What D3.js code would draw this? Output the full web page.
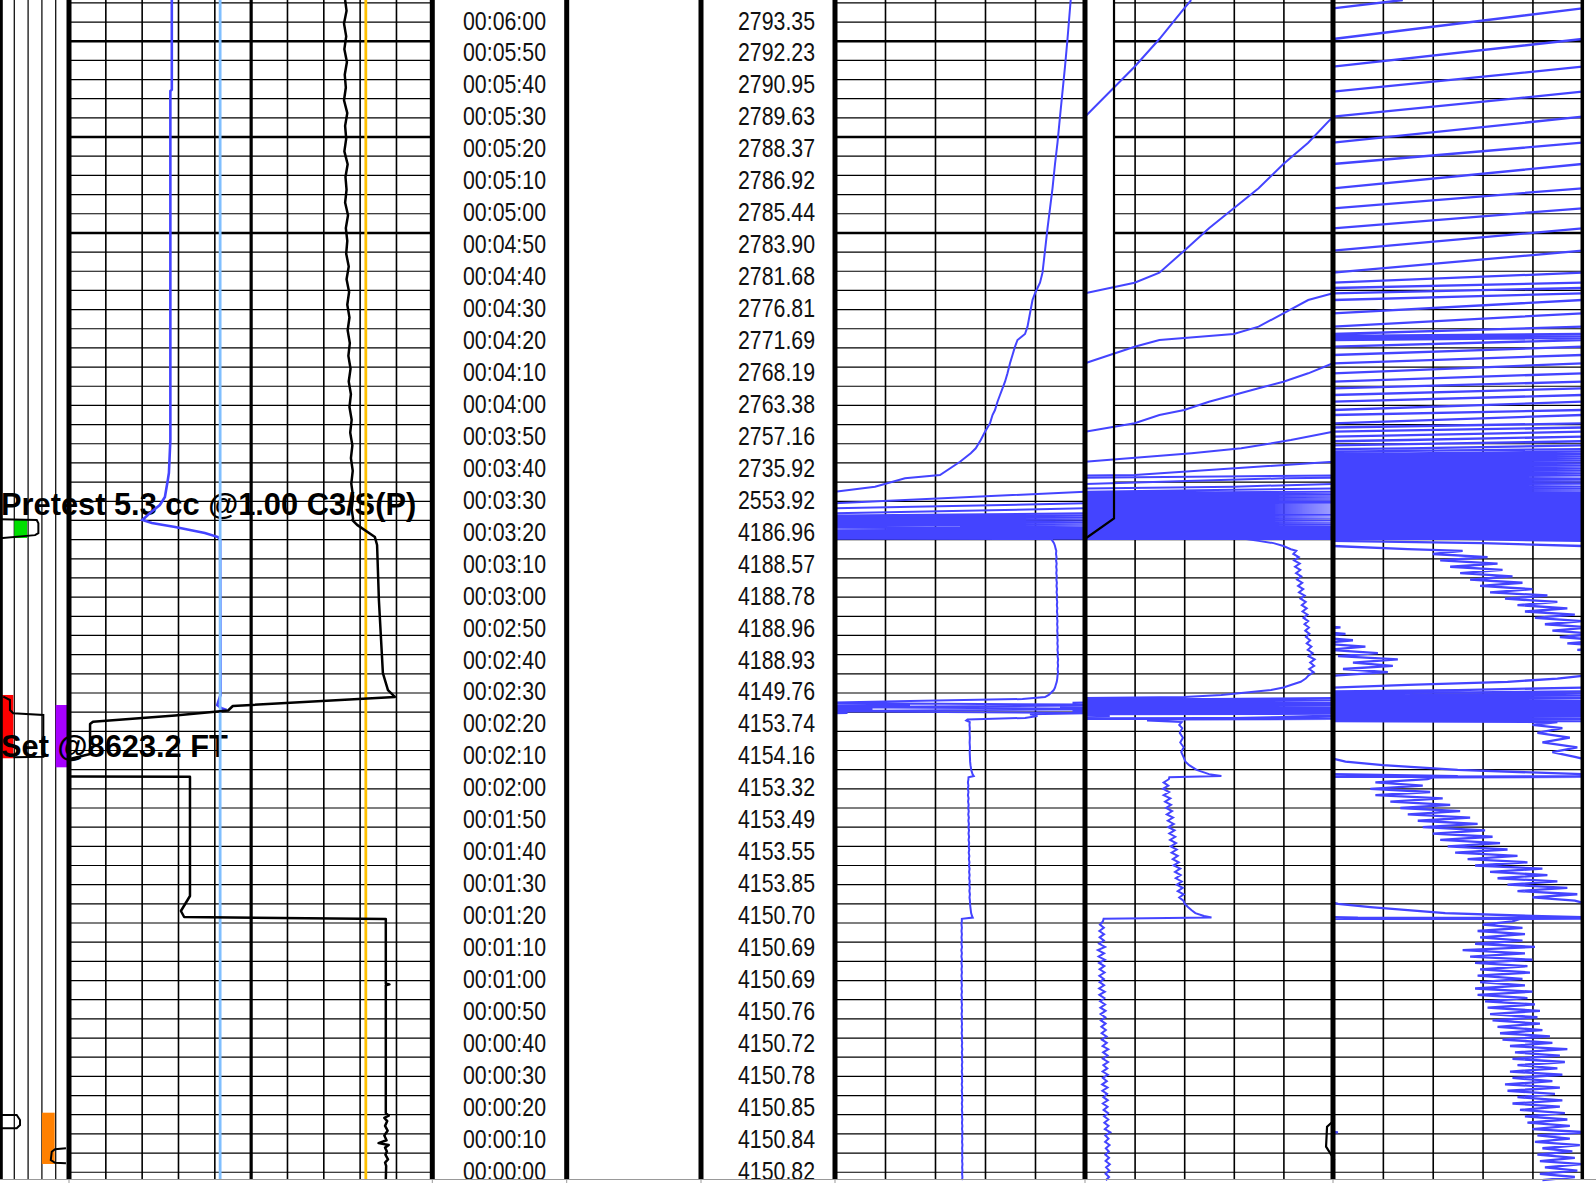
<!DOCTYPE html>
<html>
<head>
<meta charset="utf-8">
<script src="https://cdn.jsdelivr.net/npm/d3@7"></script>
<style>
  body { margin: 0; background: #fff; }
  svg { display: block; }
  .lbl { font-family: "Liberation Sans", Arial, sans-serif; font-size: 26px; fill: #111; }
  .note { font-family: "Liberation Sans", Arial, sans-serif; font-weight: bold; font-size: 30.8px; fill: #000; }
</style>
</head>
<body>
<div id="log"></div>
<script>
// ---- data -------------------------------------------------------------
// label marks (seconds) and the text shown in the two label columns
var timeTicks = [360,350,340,330,320,310,300,290,280,270,260,250,240,230,220,210,200,190,180,170,160,150,140,130,120,110,100,90,80,70,60,50,40,30,20,10,0];
var timeLabels = ["00:06:00","00:05:50","00:05:40","00:05:30","00:05:20","00:05:10","00:05:00","00:04:50","00:04:40","00:04:30","00:04:20","00:04:10","00:04:00","00:03:50","00:03:40","00:03:30","00:03:20","00:03:10","00:03:00","00:02:50","00:02:40","00:02:30","00:02:20","00:02:10","00:02:00","00:01:50","00:01:40","00:01:30","00:01:20","00:01:10","00:01:00","00:00:50","00:00:40","00:00:30","00:00:20","00:00:10","00:00:00"];
var pressLabels = ["2793.35","2792.23","2790.95","2789.63","2788.37","2786.92","2785.44","2783.90","2781.68","2776.81","2771.69","2768.19","2763.38","2757.16","2735.92","2553.92","4186.96","4188.57","4188.78","4188.96","4188.93","4149.76","4153.74","4154.16","4153.32","4153.49","4153.55","4153.85","4150.70","4150.69","4150.69","4150.76","4150.72","4150.78","4150.85","4150.84","4150.82"];

// pressure [seconds, psi] - before set
var pStation = [[0,4150.84],[1,4150.97],[2,4150.83],[3,4150.98],[4,4150.85],[5,4151.00],[6,4150.83],[7,4150.97],[8,4150.82],[9,4150.96],[10,4150.84],[11,4150.99],[12,4150.81],[13,4150.95],[14,4150.82],[15,4151.02],[16,4150.80],[17,4150.95],[18,4150.78],[19,4150.94],[20,4150.77],[21,4150.93],[22,4150.75],[23,4150.91],[24,4150.72],[25,4150.92],[26,4150.74],[27,4150.89],[28,4150.70],[29,4150.91],[30,4150.69],[31,4150.88],[32,4150.72],[33,4150.92],[34,4150.71],[35,4150.90],[36,4150.74],[37,4150.93],[38,4150.72],[39,4150.91],[40,4150.73],[41,4150.94],[42,4150.71],[43,4150.88],[44,4150.68],[45,4150.87],[46,4150.67],[47,4150.84],[48,4150.66],[49,4150.83],[50,4150.64],[51,4150.82],[52,4150.63],[53,4150.83],[54,4150.62],[55,4150.81],[56,4150.61],[57,4150.78],[58,4150.58],[59,4150.80],[60,4150.57],[61,4150.77],[62,4150.59],[63,4150.76],[64,4150.58],[65,4150.79],[66,4150.59],[67,4150.78],[68,4150.57],[69,4150.80],[70,4150.55],[71,4150.77],[72,4150.52],[73,4150.81],[74,4150.57],[75,4150.76],[76,4150.59],[77,4150.77],[78,4150.58],[79,4150.76],[80,4150.60],[81,4150.72],[81.8,4150.75]];
// setting the tool
var pSet = [[82.2,4155.1],[82.7,4154.8],[83.6,4154.45],[84.5,4154.3],[85.5,4154.15],[86.5,4154.02],[87.5,4153.97],[88.5,4153.80],[89.5,4153.98],[90.5,4153.74],[91.5,4153.94],[92.5,4153.70],[93.5,4153.90],[94.5,4153.66],[95.5,4153.86],[96.5,4153.63],[97.5,4153.84],[98.5,4153.57],[99.5,4153.78],[100.5,4153.54],[101.5,4153.74],[102.5,4153.49],[103.5,4153.70],[104.5,4153.46],[105.5,4153.67],[106.5,4153.43],[107.5,4153.64],[108.5,4153.40],[109.5,4153.61],[110.5,4153.36],[111.5,4153.58],[112.5,4153.34],[113.5,4153.55],[114.5,4153.30],[115.5,4153.51],[116.5,4153.27],[117.5,4153.47],[118.5,4153.23],[119.5,4153.44],[120.5,4153.17],[121.5,4153.39],[122.5,4153.15],[123.5,4153.36],[124.5,4153.17],[125.5,4153.38],[126.1,4153.40],[126.5,4155.5],[127.1,4155.0],[128.4,4154.5],[129.9,4154.2],[131,4154.05],[132.5,4153.97],[134,4153.88],[135.5,4153.98],[137,4153.84],[138.5,4153.95],[140,4153.82],[141.5,4153.92],[142.5,4153.80],[143.4,4153.90],[143.9,4152.5],[144.2,4153.0],[144.7,4176.0],[145.3,4181.0],[145.8,4178.0],[146.2,4205],[146.8,4095],[147.5,4215],[148.1,4090],[148.7,4230],[149.4,4095],[150.0,4130],[150.6,4175],[151.2,4184],[151.9,4185.5],[152.5,4186.3]];
// set, hydrostatic before pretest
var pHydro = [[153.4,4187.5],[154.2,4188.0],[155,4188.3],[156,4188.7],[157,4188.9],[158,4189.02],[159,4189.22],[160,4189.04],[161,4189.24],[162,4189.08],[163,4189.26],[164,4189.02],[165,4189.18],[166,4188.98],[167,4189.13],[168,4188.94],[169,4189.08],[170,4188.91],[171,4189.05],[172,4188.88],[173,4189.03],[174,4188.85],[175,4189.00],[176,4188.81],[177,4188.97],[178,4188.77],[179,4188.94],[180,4188.74],[181,4188.90],[182,4188.69],[183,4188.86],[184,4188.63],[185,4188.80],[186,4188.59],[187,4188.76],[188,4188.55],[189,4188.72],[190,4188.51],[191,4188.68],[192,4188.47],[193,4188.66],[194,4188.43],[195,4188.62],[196,4188.40],[197,4188.52],[197.5,4188.3],[198.5,4188.0],[199.4,4187.6],[200.1,4187.0],[200.7,4186.5]];
// pretest drawdown and buildup
var pPretest = [[201.31,3500],[202.25,2600],[203.5,1800],[204.6,1450],[205.7,1700],[206.7,2000],[207.07,2100],[207.51,2200],[208.04,2300],[208.73,2400],[210.3,2500],[211.86,2600],[215.49,2700],[217.06,2716],[219.69,2728],[220.72,2742],[224.88,2750],[227.51,2754.3],[229.07,2756.3],[231.67,2758.3],[234.27,2760],[235.59,2761],[236.9,2762],[239.5,2763],[241.06,2764],[243.66,2765],[245.76,2766],[247.86,2767],[249.92,2768],[252.55,2769],[255.68,2770],[258.28,2771],[260.88,2772],[262.97,2773],[263.6,2774],[264.23,2775],[264.85,2776],[267.14,2777],[271.33,2778],[275.49,2779],[277.59,2780],[279.25,2781],[280.91,2782],[284.04,2783],[290.92,2784],[297.93,2785],[304.2,2786],[310.46,2787],[318.06,2788],[324.73,2789],[332.87,2790],[340.69,2791],[348.51,2792],[357.18,2793],[366.79,2794],[369.39,2794.28]];

// track 1 curves [seconds, value 0-10]
var motorT1 = [[369.4,2.83],[341.3,2.83],[340.9,2.79],[231.67,2.79],[221.35,2.75],[219.16,2.72],[213.83,2.64],[211.33,2.50],[208.83,2.23],[206.64,2.02],[205.7,2.28],[204.44,2.92],[202.57,3.74],[201.31,4.10],[200.38,4.16],[151.86,4.17],[149.77,4.11],[148.73,4.08],[147.7,4.20],[147.17,4.34]];
var refT1 = [[369.4,4.16],[0,4.16]];
var tempT1 = [[369.4,8.17],[0,8.17]];
var padT1 = [[369.4,7.60],[366,7.64],[362,7.57],[358,7.63],[354,7.58],[350,7.65],[346,7.59],[342,7.62],[338,7.57],[334,7.66],[330,7.60],[326,7.63],[322,7.58],[318,7.67],[314,7.61],[310,7.64],[306,7.60],[302,7.68],[298,7.62],[294,7.66],[290,7.63],[286,7.70],[282,7.64],[278,7.71],[274,7.66],[270,7.72],[266,7.67],[262,7.73],[258,7.69],[254,7.75],[250,7.70],[246,7.76],[242,7.72],[238,7.78],[234,7.74],[230,7.80],[226,7.76],[222,7.81],[218,7.77],[214,7.82],[210,7.78],[207,7.82],[206.6,7.80],[205.1,7.93],[201.3,8.42],[198.8,8.48],[181.6,8.53],[169.1,8.59],[158.7,8.64],[153.4,8.78],[151.24,8.97],[148.42,4.51],[147.01,4.38],[145.45,2.92],[143.51,0.66],[142.79,0.58],[133.39,0.58],[131.99,0.08],[129,-0.2],[126.35,-0.2],[126.29,3.33],[88.95,3.33],[84.26,3.08],[82.38,3.17],[81.75,8.72],[61.6,8.72],[61.3,8.82],[61.0,8.72],[21,8.72],[20.2,8.8],[19.5,8.68],[18.5,8.76],[17.0,8.7],[15.5,8.77],[14.0,8.68],[12.5,8.74],[11.6,8.52],[11.0,8.8],[10.2,8.7],[9,8.75],[8,8.71],[6.5,8.78],[5.5,8.7],[4.5,8.73],[0,8.72]];

// black curve in the second pressure track [seconds, value 0-10]
var blkUpper = [[369.4,1.17],[207.16,1.17],[201.16,0.08],[200.9,0.0]];
var blkLower = [[18.84,10.06],[16.75,9.76],[10.49,9.72],[6.32,10.06]];

// flag strip: [column, start s, end s]
var flags = [[1,201.0,206.64],[0,132.06,151.87],[4,129.23,148.73],[3,5.08,21.13]];
var flagColors = ["#00e000","#ff0000","#a600ff","#ff8000"];
// flag outlines [seconds, column units]
var flagLines = [
  [[206.85,0],[206.64,2.66],[205.6,2.78],[202.5,2.78],[201.9,2.54],[200.9,0]],
  [[151.33,0.24],[150.3,0.72],[147.17,0.72],[146.13,0.96],[145.6,3.14],[132.56,3.14],[132.37,0.96]],
  [[20.41,0],[20.41,1.21],[18.85,1.45],[17.28,1.45],[16.25,1.21],[16.25,0]],
  [[9.98,4.78],[9.67,3.99],[8.92,3.75],[6.32,3.68],[5.47,3.99],[5.28,4.78]]
];

var notes = [["Pretest 5.3 cc @1.00 C3/S(P)", 208.2], ["Set @8623.2 FT", 132.5]];

// ---- layout ------------------------------------------------------------
var W = 1596, H = 1183, bottom = 1179;
var svg = d3.select("#log").append("svg").attr("width", W).attr("height", H);

var y = d3.scaleLinear().domain([0, 360]).range([1180.2, 30]);
var xStrip = d3.scaleLinear().domain([0, 5]).range([0, 69]);
var xT1 = d3.scaleLinear().domain([0, 10]).range([69, 432.3]);
var xA = d3.scaleLinear().domain([0, 100]).range([835, 1085]);
var xB = d3.scaleLinear().domain([0, 10]).range([1085, 1333]);
var xC = d3.scaleLinear().domain([0, 1]).range([1333, 1582.3]);

// grid every 6 s, heavy every 30 s
var gridT = d3.range(368.65, 0, -6);
function heavy(t) { return Math.abs(((t - 26.65) % 30 + 30) % 30) < 0.01; }

function hGrid(x0, x1) {
  var g = svg.append("g").attr("transform", "translate(" + x0 + ",0)");
  g.call(d3.axisRight(y).tickValues(gridT).tickSize(x1 - x0).tickFormat(""));
  g.select(".domain").remove();
  g.selectAll(".tick line").attr("stroke", "#000")
    .attr("stroke-width", function (d) { return heavy(d) ? 2.5 : 1.2; });
}
function vGrid(scale, vals, w, col) {
  var g = svg.append("g");
  g.call(d3.axisBottom(scale).tickValues(vals).tickSize(bottom).tickFormat(""));
  g.select(".domain").remove();
  g.selectAll(".tick line").attr("stroke", col || "#000").attr("stroke-width", w);
}

hGrid(69, 432.3);
hGrid(835, 1582.3);
vGrid(xT1, [1,2,3,4,6,7,8,9], 1.6);
vGrid(xT1, [5], 3.2);
vGrid(xA, [20,40,60,80], 1.6);
vGrid(xB, [2,4,6,8], 1.6);
vGrid(xC, [0.2,0.4,0.6,0.8], 1.6);
vGrid(xStrip, [1,2,3,4], 1.3, "#111");

// flags
svg.append("g").selectAll("rect")
  .data(flags)
  .enter().append("rect")
  .attr("x", function (d) { return xStrip(d[0]) + (d[0] === 0 ? 2 : 0.5); })
  .attr("width", function (d) { return xStrip(1) - (d[0] === 0 ? 2.5 : 1); })
  .attr("y", function (d) { return y(d[2]); })
  .attr("height", function (d) { return y(d[1]) - y(d[2]); })
  .attr("fill", function (d, i) { return flagColors[i]; });

var lineStrip = d3.line().x(function (d) { return xStrip(d[1]); }).y(function (d) { return y(d[0]); });
svg.append("g").selectAll("path")
  .data(flagLines)
  .enter().append("path")
  .attr("d", lineStrip)
  .attr("fill", "none").attr("stroke", "#000").attr("stroke-width", 2);

// white strip left of the black curve in track B
svg.append("path")
  .datum(blkUpper)
  .attr("d", d3.area().x0(xB(0) + 2).x1(function (d) { return xB(d[1]); }).y(function (d) { return y(d[0]); }))
  .attr("fill", "#fff");

// annotations
svg.append("g").selectAll("text")
  .data(notes)
  .enter().append("text")
  .attr("class", "note")
  .attr("x", 1)
  .attr("y", function (d) { return y(d[1]); })
  .text(function (d) { return d[0]; });

// ---- track 1 curves ----------------------------------------------------
svg.append("clipPath").attr("id", "clipT1").append("rect")
  .attr("x", 69).attr("y", 0).attr("width", 432.3 - 69).attr("height", bottom);
var t1 = svg.append("g").attr("clip-path", "url(#clipT1)");
var lineT1 = d3.line().x(function (d) { return xT1(d[1]); }).y(function (d) { return y(d[0]); });
t1.append("path").datum(motorT1).attr("d", lineT1).attr("fill", "none").attr("stroke", "#4444ff").attr("stroke-width", 2.6);
t1.append("path").datum(refT1).attr("d", lineT1).attr("fill", "none").attr("stroke", "#80bfff").attr("stroke-width", 2.8);
t1.append("path").datum(tempT1).attr("d", lineT1).attr("fill", "none").attr("stroke", "#ffc000").attr("stroke-width", 2.8);
t1.append("path").datum(padT1).attr("d", lineT1).attr("fill", "none").attr("stroke", "#000").attr("stroke-width", 2.5).attr("stroke-linejoin", "round");

// ---- pressure, wrapped in three tracks -------------------------------------
var pressure = pStation.concat(pSet, pHydro, pPretest);

function wrapPath(data, xs, range) {
  var lo = xs.range()[0], hi = xs.range()[1];
  var p = d3.path(), prev = null;
  data.forEach(function (d) {
    var u = d[1] / range;
    if (prev) {
      var t0 = prev[0], u0 = prev[1], c, tc;
      if (u > u0) {
        for (c = Math.floor(u0) + 1; c <= u; c++) {
          tc = t0 + (c - u0) / (u - u0) * (d[0] - t0);
          p.lineTo(hi, y(tc)); p.moveTo(lo, y(tc));
        }
      } else if (u < u0) {
        for (c = Math.floor(u0); c > u; c--) {
          tc = t0 + (c - u0) / (u - u0) * (d[0] - t0);
          p.lineTo(lo, y(tc)); p.moveTo(hi, y(tc));
        }
      }
      p.lineTo(xs((u - Math.floor(u)) * range), y(d[0]));
    } else {
      p.moveTo(xs((u - Math.floor(u)) * range), y(d[0]));
    }
    prev = [d[0], u];
  });
  return p.toString();
}

[[xA, 100, 2], [xB, 10, 2], [xC, 1, 2.3]].forEach(function (tr) {
  svg.append("path")
    .attr("d", wrapPath(pressure, tr[0], tr[1]))
    .attr("fill", "none")
    .attr("stroke", "#4444ff")
    .attr("stroke-width", tr[2]);
});

var lineB = d3.line().x(function (d) { return xB(d[1]); }).y(function (d) { return y(d[0]); });
[blkUpper, blkLower].forEach(function (s) {
  svg.append("path").datum(s).attr("d", lineB)
    .attr("fill", "none").attr("stroke", "#000").attr("stroke-width", 2.2);
});

// ---- track borders ---------------------------------------------------------
var borders = [[1.3, 3], [69, 5], [432.3, 5], [566.7, 5], [701, 5], [835, 5], [1085, 5], [1333, 5], [1582.3, 3.5]];
svg.append("g").selectAll("line")
  .data(borders)
  .enter().append("line")
  .attr("x1", function (d) { return d[0]; }).attr("x2", function (d) { return d[0]; })
  .attr("y1", 0).attr("y2", bottom)
  .attr("stroke", "#000")
  .attr("stroke-width", function (d) { return d[1]; });

// ---- label columns ---------------------------------------------------------
svg.append("g").selectAll("text")
  .data(timeTicks)
  .enter().append("text")
  .attr("class", "lbl")
  .attr("text-anchor", "end")
  .attr("x", 546)
  .attr("y", function (d) { return y(d) - 0.5; })
  .attr("textLength", 83)
  .attr("lengthAdjust", "spacingAndGlyphs")
  .text(function (d, i) { return timeLabels[i]; });

svg.append("g").selectAll("text")
  .data(timeTicks)
  .enter().append("text")
  .attr("class", "lbl")
  .attr("text-anchor", "end")
  .attr("x", 815)
  .attr("y", function (d) { return y(d) - 0.5; })
  .attr("textLength", 77)
  .attr("lengthAdjust", "spacingAndGlyphs")
  .text(function (d, i) { return pressLabels[i]; });

// bottom rule with small ticks
svg.append("line").attr("x1", 0).attr("x2", W).attr("y1", bottom + 0.5).attr("y2", bottom + 0.5)
  .attr("stroke", "#999").attr("stroke-width", 1);
svg.append("g").selectAll("line")
  .data(borders.slice(1, 8))
  .enter().append("line")
  .attr("x1", function (d) { return d[0]; }).attr("x2", function (d) { return d[0]; })
  .attr("y1", bottom).attr("y2", H)
  .attr("stroke", "#999").attr("stroke-width", 1);
</script>
</body>
</html>
